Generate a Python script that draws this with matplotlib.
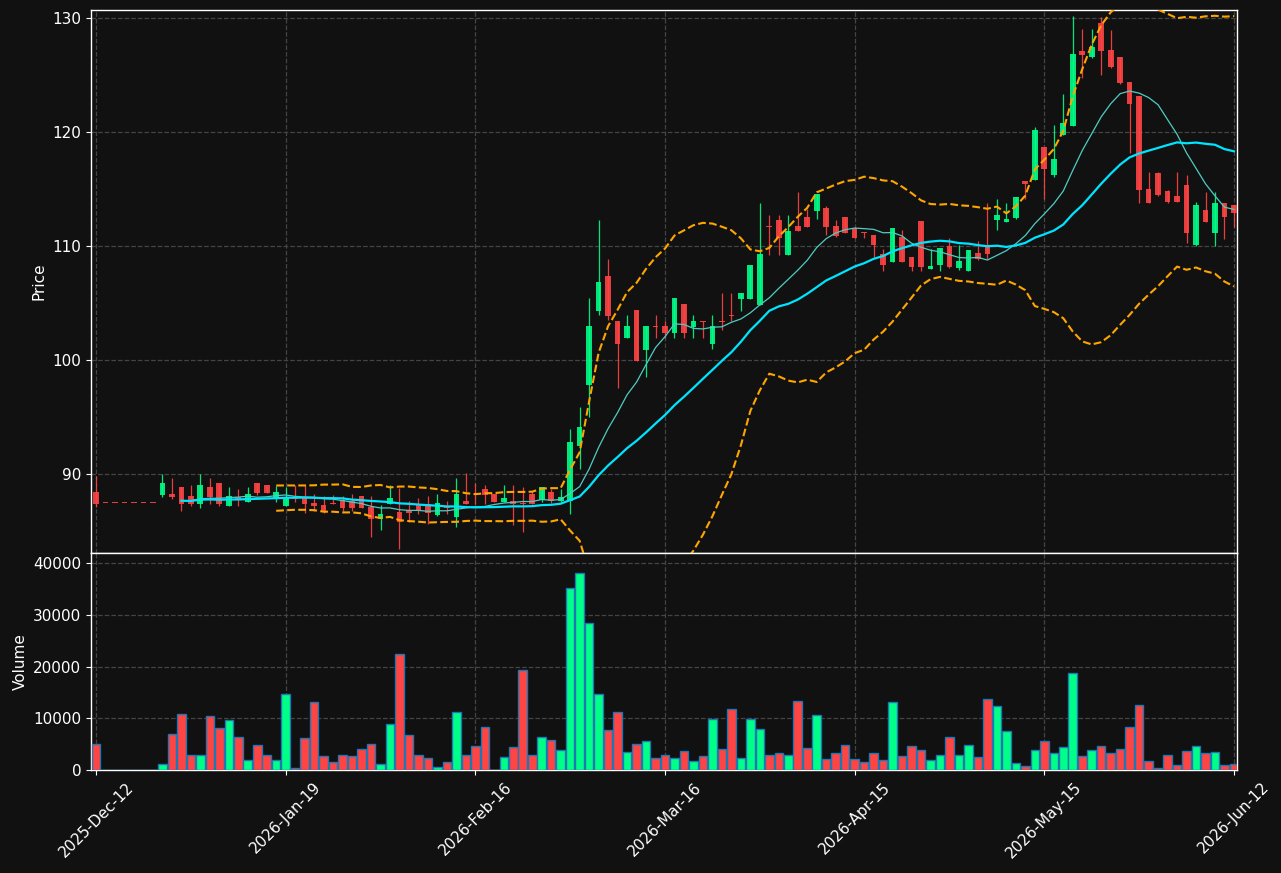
import numpy as np
import pandas as pd
import matplotlib
matplotlib.use('Agg')
import matplotlib.pyplot as plt

# ---------------- data ----------------
opens = [88.42, 87.43, 87.43, 87.43, 87.43, 87.43, 87.43, 88.16, 88.25, 88.86,
         88.07, 87.40, 88.86, 89.21, 87.22, 87.98, 87.57, 89.21, 89.04, 87.81,
         87.22, 87.98, 87.89, 87.49, 87.28, 87.48, 87.72, 87.63, 88.07, 87.08,
         86.08, 87.40, 86.67, 86.87, 87.37, 87.37, 86.40, 87.11, 86.26, 87.63,
         87.46, 88.65, 88.25, 87.54, 87.63, 87.42, 88.25, 87.75, 88.39, 87.63,
         87.66, 92.49, 97.81, 104.33, 107.37, 103.42, 101.96, 104.39, 100.88, 102.98,
         102.98, 102.40, 104.91, 102.87, 103.42, 101.42, 103.42, 103.95, 105.38, 105.38,
         104.82, 111.73, 112.28, 109.24, 111.75, 112.54, 113.10, 113.33, 111.75, 112.54,
         111.58, 111.23, 110.96, 109.33, 108.63, 110.82, 109.01, 112.19, 108.01, 108.36,
         110.00, 108.04, 107.84, 109.42, 110.09, 112.28, 112.13, 112.43, 115.70, 115.79,
         118.71, 116.23, 119.74, 120.56, 127.11, 126.61, 129.59, 127.19, 126.55, 124.39,
         123.16, 115.00, 116.37, 114.82, 114.39, 115.35, 110.09, 113.16, 111.17, 113.80,
         113.60]
highs = [89.82, 87.43, 87.43, 87.43, 87.43, 87.43, 87.43, 90.00, 89.65, 88.86,
         89.04, 90.00, 89.65, 89.21, 88.86, 88.68, 88.86, 89.21, 89.04, 88.95,
         88.86, 89.04, 89.04, 88.25, 88.07, 88.20, 88.04, 88.22, 88.07, 88.07,
         87.25, 89.00, 88.80, 87.60, 87.87, 88.04, 88.22, 87.60, 89.62, 90.12,
         89.18, 89.00, 88.25, 89.00, 89.00, 88.83, 88.51, 88.83, 88.65, 88.65,
         93.92, 95.85, 105.41, 112.28, 108.83, 103.42, 103.95, 104.39, 102.98, 103.95,
         103.42, 105.41, 104.91, 103.95, 103.42, 103.95, 105.85, 105.85, 105.88, 108.33,
         113.74, 112.72, 112.72, 112.72, 114.74, 113.25, 114.56, 113.51, 112.28, 112.54,
         111.67, 111.23, 110.96, 109.77, 111.55, 111.40, 109.01, 112.19, 109.77, 109.80,
         110.73, 110.09, 109.65, 110.44, 113.74, 114.09, 113.74, 114.27, 115.70, 120.41,
         118.71, 120.61, 123.33, 130.18, 129.04, 129.01, 130.12, 128.95, 126.55, 124.39,
         123.16, 116.52, 116.52, 114.91, 116.52, 116.23, 113.89, 114.77, 114.77, 113.80,
         113.60]
lows = [87.13, 87.43, 87.43, 87.43, 87.43, 87.43, 87.43, 88.01, 87.81, 86.78,
        87.22, 87.05, 87.40, 87.22, 87.22, 87.22, 87.57, 88.16, 88.33, 87.54,
        87.22, 87.57, 86.61, 86.78, 86.61, 87.38, 86.75, 86.75, 87.00, 84.50,
        85.06, 87.40, 83.45, 85.79, 86.46, 85.64, 86.32, 86.46, 85.32, 87.37,
        87.40, 87.37, 87.54, 87.54, 85.50, 84.88, 87.40, 87.57, 87.49, 87.55,
        86.49, 90.44, 95.03, 103.95, 103.51, 97.57, 101.96, 99.94, 98.48, 101.96,
        101.96, 101.96, 101.96, 101.96, 101.96, 100.94, 102.63, 103.42, 104.33, 105.38,
        104.82, 109.24, 109.24, 109.24, 111.32, 111.67, 112.34, 110.96, 110.79, 111.17,
        110.73, 110.73, 109.04, 107.84, 108.63, 108.63, 107.84, 107.84, 108.01, 107.84,
        108.04, 107.89, 107.84, 108.77, 108.83, 111.40, 112.08, 112.34, 114.09, 115.79,
        114.09, 116.02, 119.74, 120.56, 124.71, 126.46, 125.00, 125.58, 124.21, 118.13,
        113.74, 113.74, 114.41, 113.74, 113.89, 110.29, 110.00, 112.13, 110.00, 110.58,
        111.70]
closes = [87.40, 87.43, 87.43, 87.43, 87.43, 87.43, 87.43, 89.21, 87.98, 87.40,
          87.40, 89.04, 87.98, 87.40, 88.07, 87.81, 88.25, 88.33, 88.33, 88.42,
          87.98, 87.81, 87.40, 87.22, 86.76, 87.40, 87.02, 87.02, 87.02, 86.05,
          86.49, 87.87, 85.82, 86.61, 86.78, 86.61, 87.46, 87.02, 88.25, 87.37,
          87.42, 88.19, 87.54, 87.89, 87.37, 87.37, 87.40, 88.83, 87.63, 87.95,
          92.81, 94.15, 102.98, 106.84, 103.86, 101.43, 102.98, 99.94, 102.98, 102.90,
          102.40, 105.41, 102.40, 103.42, 103.36, 102.95, 103.36, 103.89, 105.88, 108.33,
          109.30, 111.67, 110.73, 111.32, 111.32, 111.67, 114.56, 111.67, 110.88, 111.17,
          110.73, 111.17, 110.09, 108.33, 111.55, 108.63, 108.19, 108.19, 108.22, 109.80,
          108.19, 108.71, 109.65, 108.83, 109.27, 112.72, 112.34, 114.27, 115.44, 120.18,
          116.75, 117.63, 120.82, 126.84, 126.75, 127.49, 127.13, 125.73, 124.33, 122.46,
          114.91, 113.74, 114.47, 113.83, 113.89, 111.17, 113.60, 112.13, 113.74, 112.57,
          112.92]
volumes = [5000, 0, 0, 0, 0, 0, 0, 1100, 6900, 10800,
           3000, 3000, 10400, 8100, 9600, 6300, 1900, 4800, 3000, 2000,
           14700, 300, 6100, 13100, 2700, 1500, 2900, 2700, 4000, 5000,
           1100, 8900, 22500, 6700, 3000, 2300, 500, 1500, 11200, 3000,
           4600, 8300, 0, 2500, 4400, 19400, 3000, 6300, 5800, 3800,
           35300, 38200, 28500, 14700, 7700, 11200, 3400, 5000, 5600, 2300,
           2900, 2300, 3600, 1700, 2700, 9800, 4000, 11800, 2300, 9800,
           7900, 2900, 3200, 3000, 13300, 4200, 10600, 2100, 3200, 4800,
           2100, 1500, 3200, 1900, 13100, 2700, 4600, 3800, 1900, 2900,
           6300, 3000, 4800, 2500, 13700, 12400, 7500, 1300, 700, 3800,
           5600, 3200, 4400, 18800, 2700, 3800, 4600, 3200, 4000, 8300,
           12600, 1700, 300, 3000, 900, 3600, 4600, 3200, 3400, 900,
           1100]
tick_positions = [0, 20, 40, 60, 80, 100, 120]
tick_labels = ['2025-Dec-12', '2026-Jan-19', '2026-Feb-16', '2026-Mar-16',
               '2026-Apr-15', '2026-May-15', '2026-Jun-12']

# ---------------- style ----------------
BG = '#111111'
UP = '#00ff88'
DOWN = '#ff4444'
GRID = '#444444'
FS = 11

o = np.array(opens); h = np.array(highs); l = np.array(lows); c = np.array(closes)
v = np.array(volumes)
x = np.arange(len(c))
up = c > o
cols = np.where(up, UP, DOWN)

s = pd.Series(closes)
ma10 = s.rolling(10).mean()
ma20 = s.rolling(20, min_periods=10).mean()
bb_mid = s.rolling(20).mean()
bb_std = s.rolling(20).std(ddof=0)
bb_up = bb_mid + 2 * bb_std
bb_lo = bb_mid - 2 * bb_std

fig = plt.figure(figsize=(12.81, 8.73), dpi=100, facecolor=BG)
W, H = 1281, 873
ax = fig.add_axes([91 / W, (H - 553) / H, 1146 / W, 543 / H])
axv = fig.add_axes([91 / W, (H - 770) / H, 1146 / W, 217 / H], sharex=ax)

for a in (ax, axv):
    a.set_facecolor(BG)
    for sp in a.spines.values():
        sp.set_color('white')
        sp.set_linewidth(1.0)
    a.tick_params(colors='white', labelsize=FS)
    a.grid(True, color=GRID, linestyle='--', linewidth=0.9)
    a.set_axisbelow(True)

# candles
ax.vlines(x, l, h, colors=cols, linewidth=0.9, alpha=0.9, zorder=3)
body_bottom = np.minimum(o, c)
body_h = np.maximum(np.abs(c - o), 0.07)
ax.bar(x, body_h, 0.6, bottom=body_bottom, color=cols, alpha=0.9,
       linewidth=0, zorder=4)

# indicators
ax.plot(x, ma10, color='#4ecdc4', linewidth=0.9, zorder=5)
ax.plot(x, ma20, color='#00e5ff', linewidth=1.6, zorder=5)
ax.plot(x, bb_up, color='orange', linestyle='--', linewidth=1.5, zorder=5)
ax.plot(x, bb_lo, color='orange', linestyle='--', linewidth=1.5, zorder=5)

ax.set_ylim(83.07, 130.7)
ax.set_xlim(-0.53, 120.32)
ax.set_ylabel('Price', color='white', fontsize=FS)
ax.tick_params(axis='x', labelbottom=False)

# volume
axv.bar(x, v, 0.9, color=cols, edgecolor='#1f77b4', linewidth=1.0, zorder=3)
axv.set_ylim(0, 42000)
axv.set_yticks([0, 10000, 20000, 30000, 40000])
axv.set_ylabel('Volume', color='white', fontsize=FS)
axv.set_xticks(tick_positions)
axv.set_xticklabels(tick_labels, rotation=45)

fig.savefig('out.png', dpi=100, facecolor=BG)
